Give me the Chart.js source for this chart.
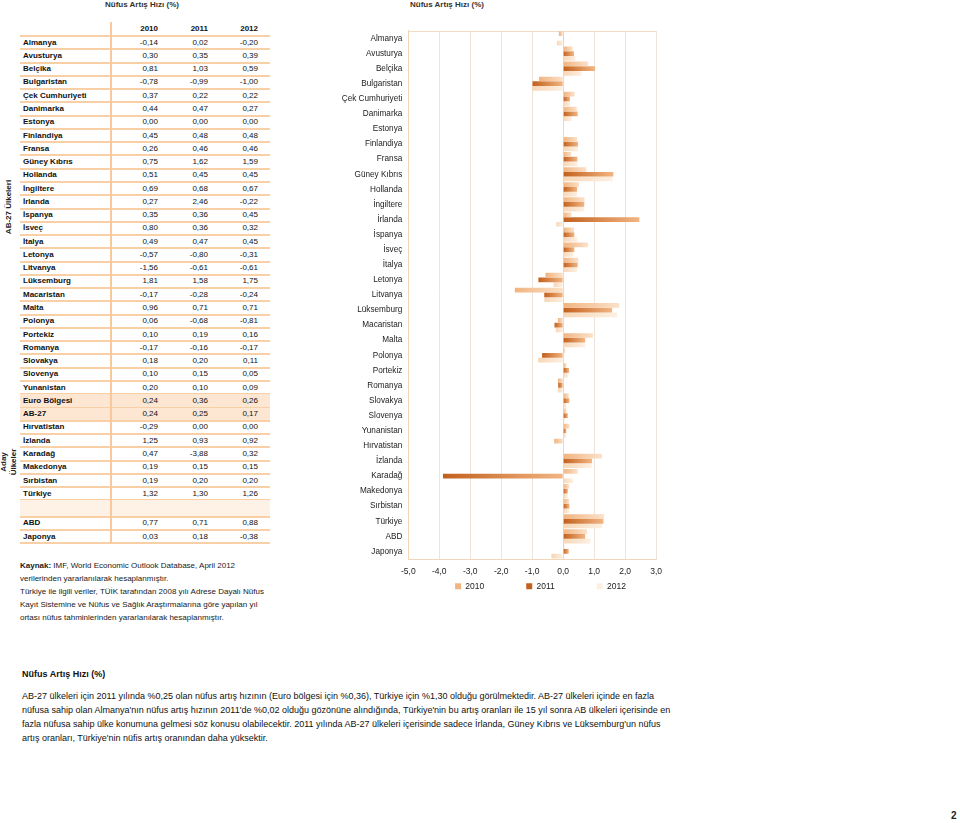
<!DOCTYPE html>
<html><head><meta charset="utf-8">
<script src="https://cdn.jsdelivr.net/npm/chart.js@4.4.1/dist/chart.umd.min.js"></script>
<style>
body{margin:0;background:#fff;font-family:"Liberation Sans",Arial,sans-serif;color:#1a1a1a;}
#page{position:relative;width:960px;height:823px;overflow:hidden;background:#fff;}
.abs{position:absolute;white-space:nowrap;}
.ttl{font-weight:bold;font-size:8px;color:#333;}
.tline{position:absolute;left:20px;width:250px;height:2px;background:#f9cfa6;}
.cell{position:absolute;font-size:8px;line-height:10px;white-space:nowrap;color:#111;}
.nm{font-weight:bold;}
.note{position:absolute;left:20px;font-size:8px;line-height:13px;white-space:nowrap;color:#1a1a1a;}
.para{position:absolute;left:22px;font-size:9px;white-space:nowrap;color:#111;}
</style></head><body><div id="page">
<div class="abs ttl" style="left:105px;top:0px;">Nüfus Artış Hızı (%)</div>
<div class="abs ttl" style="left:410px;top:0px;">Nüfus Artış Hızı (%)</div>
<div id="table"></div>
<div class="abs" style="left:8px;top:207px;font-size:8px;font-weight:bold;transform:translate(-50%,-50%) rotate(-90deg);color:#222;">AB-27 Ülkeleri</div>
<div class="abs" style="left:9px;top:462px;font-size:8px;line-height:10px;font-weight:bold;text-align:center;transform:translate(-50%,-50%) rotate(-90deg);color:#222;">Aday<br>Ülkeler</div>
<div id="notes"></div>
<canvas id="c" width="330" height="580" style="position:absolute;left:340px;top:20px;width:330px;height:580px;"></canvas>
<div class="abs" style="left:22px;top:669px;font-size:9px;font-weight:bold;color:#111;">Nüfus Artış Hızı (%)</div>
<div id="para"></div>
<div class="abs" style="left:951px;top:810px;font-size:10px;font-weight:bold;color:#222;">2</div>
</div>
<script>
const categories = ['Almanya','Avusturya','Belçika','Bulgaristan','Çek Cumhuriyeti','Danimarka','Estonya','Finlandiya','Fransa','Güney Kıbrıs','Hollanda','İngiltere','İrlanda','İspanya','İsveç','İtalya','Letonya','Litvanya','Lüksemburg','Macaristan','Malta','Polonya','Portekiz','Romanya','Slovakya','Slovenya','Yunanistan','Hırvatistan','İzlanda','Karadağ','Makedonya','Sırbistan','Türkiye','ABD','Japonya'];
const v2010 = [-0.14,0.30,0.81,-0.78,0.37,0.44,0.00,0.45,0.26,0.75,0.51,0.69,0.27,0.35,0.80,0.49,-0.57,-1.56,1.81,-0.17,0.96,0.06,0.10,-0.17,0.18,0.10,0.20,-0.29,1.25,0.47,0.19,0.19,1.32,0.77,0.03];
const v2011 = [0.02,0.35,1.03,-0.99,0.22,0.47,0.00,0.48,0.46,1.62,0.45,0.68,2.46,0.36,0.36,0.47,-0.80,-0.61,1.58,-0.28,0.71,-0.68,0.19,-0.16,0.20,0.15,0.10,0.00,0.93,-3.88,0.15,0.20,1.30,0.71,0.18];
const v2012 = [-0.20,0.39,0.59,-1.00,0.22,0.27,0.00,0.48,0.46,1.59,0.45,0.67,-0.22,0.45,0.32,0.45,-0.31,-0.61,1.75,-0.24,0.71,-0.81,0.16,-0.17,0.11,0.05,0.09,0.00,0.92,0.32,0.15,0.20,1.26,0.88,-0.38];
const aggNames = ['Euro Bölgesi','AB-27'];
const agg2010 = [0.24,0.24];
const agg2011 = [0.36,0.25];
const agg2012 = [0.26,0.17];
const years = ['2010','2011','2012'];
const euCount = 27;
const notes = ['<b>Kaynak:</b> IMF, World Economic Outlook Database, April 2012','verilerinden yararlanılarak hesaplanmıştır.','Türkiye ile ilgili veriler, TÜİK tarafından 2008 yılı Adrese Dayalı Nüfus','Kayıt Sistemine ve Nüfus ve Sağlık Araştırmalarına göre yapılan yıl','ortası nüfus tahminlerinden yararlanılarak hesaplanmıştır.'];
const paraLines = ["AB-27 ülkeleri için 2011 yılında %0,25 olan nüfus artış hızının (Euro bölgesi için %0,36), Türkiye için %1,30 olduğu görülmektedir. AB-27 ülkeleri içinde en fazla","nüfusa sahip olan Almanya'nın nüfus artış hızının 2011'de %0,02 olduğu gözönüne alındığında, Türkiye'nin bu artış oranları ile 15 yıl sonra AB ülkeleri içerisinde en","fazla nüfusa sahip ülke konumuna gelmesi söz konusu olabilecektir. 2011 yılında AB-27 ülkeleri içerisinde sadece İrlanda, Güney Kıbrıs ve Lüksemburg'un nüfus","artış oranları, Türkiye'nin nüfis artış oranından daha yüksektir."];

const fmt = v => v.toFixed(2).replace('.', ',');

// ---- table ----
(function(){
  const t = document.getElementById('table');
  let html = '';
  const pitch = 13.27;
  const colR = [158, 208, 258];
  years.forEach((y,k)=>{ html += `<div class="cell nm" style="left:${colR[k]-40}px;width:40px;text-align:right;top:${29.3-5}px;">${y}</div>`; });
  const rows = [];
  for (let i=0;i<euCount;i++) rows.push({n:categories[i],a:v2010[i],b:v2011[i],c:v2012[i]});
  aggNames.forEach((n,j)=>rows.push({n,a:agg2010[j],b:agg2011[j],c:agg2012[j],agg:true}));
  for (let i=euCount;i<categories.length-2;i++) rows.push({n:categories[i],a:v2010[i],b:v2011[i],c:v2012[i]});
  rows.push({blank:true});
  for (let i=categories.length-2;i<categories.length;i++) rows.push({n:categories[i],a:v2010[i],b:v2011[i],c:v2012[i]});
  let y = 36;
  html += `<div class="tline" style="top:${y-1}px"></div>`;
  rows.forEach(r=>{
    const h = r.blank ? 16.4 : pitch;
    if (r.agg) html += `<div style="position:absolute;left:20px;width:250px;top:${y}px;height:${h}px;background:#fde6d2"></div>`;
    if (r.blank) html += `<div style="position:absolute;left:20px;width:250px;top:${y}px;height:${h}px;background:#fef1e6"></div>`;
    if (!r.blank){
      const cy = y + h/2 - 5;
      html += `<div class="cell nm" style="left:23px;top:${cy}px">${r.n}</div>`;
      [r.a,r.b,r.c].forEach((v,k)=>{ html += `<div class="cell" style="left:${colR[k]-40}px;width:40px;text-align:right;top:${cy}px">${fmt(v)}</div>`; });
    }
    y += h;
    html += `<div class="tline" style="top:${y-1}px"></div>`;
  });
  html += `<div style="position:absolute;left:110px;top:22px;width:2px;height:${y-22}px;background:#f9c99c"></div>`;
  t.innerHTML = html;
  let nh='';
  notes.forEach((s,i)=>{ nh += `<div class="note" style="top:${565-6.5+13*i}px">${s}</div>`; });
  document.getElementById('notes').innerHTML = nh;
  let ph='';
  paraLines.forEach((s,i)=>{ ph += `<div class="para" style="top:${697-6+14*i}px">${s}</div>`; });
  document.getElementById('para').innerHTML = ph;
})();

// ---- chart ----
const FONT = '"Liberation Sans", Arial, sans-serif';
const LEG_PAD = 42;
function grad(c0, c1, mid){
  return (ctx) => {
    if (ctx.type !== 'data') return mid;
    const chart = ctx.chart;
    const xs = chart.scales.x;
    if (!xs || !chart.chartArea) return mid;
    const a = xs.getPixelForValue(0), b = xs.getPixelForValue(ctx.raw);
    const l = Math.min(a,b), r = Math.max(a,b);
    if (r - l < 1) return c0;
    const g = chart.ctx.createLinearGradient(l,0,r,0);
    g.addColorStop(0,c0); g.addColorStop(1,c1);
    return g;
  };
}
const frame = {id:'frame', beforeDatasetsDraw(chart){
  const {ctx, chartArea:a} = chart;
  ctx.save(); ctx.strokeStyle='#f3dcc4'; ctx.lineWidth=1;
  ctx.beginPath(); ctx.moveTo(a.left, Math.round(a.top)+0.5); ctx.lineTo(a.right, Math.round(a.top)+0.5); ctx.stroke();
  ctx.restore();
}};
// legend box is kept short (maxHeight) so the plot keeps its height; items are placed via offsets
const legendShift = {id:'legendShift', afterLayout(chart){
  const lg = chart.legend; if (!lg) return;
  lg.left += 42; lg.right += 42;
  const bottom = lg.bottom;
  lg.top = lg.top - LEG_PAD + 3;
  lg.bottom = bottom + 20;
}};
new Chart(document.getElementById('c'), {
  type:'bar',
  data:{labels:categories, datasets:[
    {label:years[0], data:v2010, backgroundColor:grad('#f1b47f','#fbe1c9','#f4c8a0'), borderWidth:0},
    {label:years[1], data:v2011, backgroundColor:grad('#c2601d','#f2b582','#c97c48'), borderWidth:0},
    {label:years[2], data:v2012, backgroundColor:grad('#f7d6b6','#fdf0e2','#f9e2cb'), borderWidth:0}
  ]},
  options:{
    indexAxis:'y', responsive:false, animation:false,
    layout:{padding:{top:9,right:13,left:0,bottom:0}},
    datasets:{bar:{categoryPercentage:0.94,barPercentage:1.0}},
    scales:{
      x:{min:-5,max:3,
        ticks:{stepSize:1,callback:v=>Number(v).toFixed(1).replace('.',','),font:{size:8.5,family:FONT},color:'#222',padding:8,maxRotation:0},
        grid:{color:c=>(c.tick && c.tick.value===0)?'#d7dde8':'#ede5db',drawTicks:false},
        border:{color:'#f1d6ba'},
        afterFit(s){s.height=20;}},
      y:{ticks:{font:{size:8.2,family:FONT},color:'#222',padding:6,autoSkip:false},
        grid:{display:false,drawTicks:false},
        border:{color:'#f1d6ba'},
        afterFit(s){s.width=68.3;}}
    },
    plugins:{
      legend:{position:'bottom',maxHeight:21,labels:{boxWidth:6,boxHeight:6,font:{size:8.5,family:FONT},color:'#222',padding:LEG_PAD}},
      tooltip:{enabled:false}
    }
  },
  plugins:[frame, legendShift]
});
</script>
</body></html>
